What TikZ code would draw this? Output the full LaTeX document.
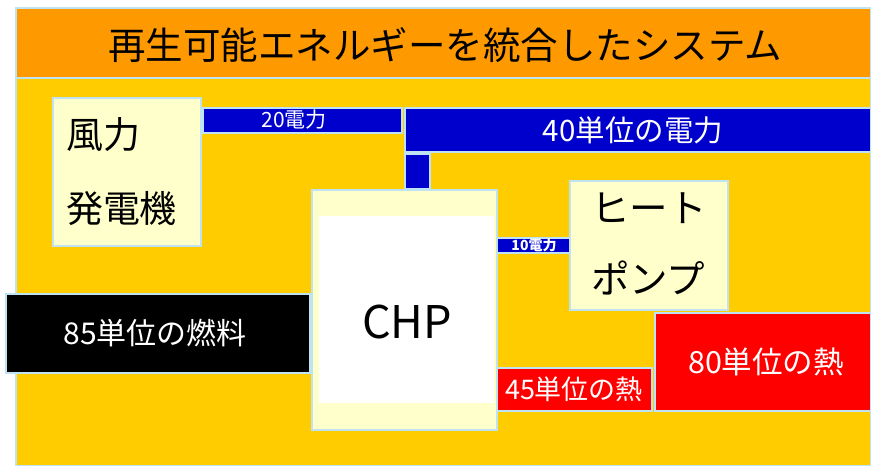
\documentclass[tikz,border=0pt]{standalone}
\usepackage{fontspec}
\setmainfont{Noto Sans CJK JP}
\definecolor{titleor}{HTML}{FF9900}
\definecolor{bgyel}{HTML}{FFCC00}
\definecolor{lightyel}{HTML}{FFFFCC}
\definecolor{elblue}{HTML}{0000CC}
\definecolor{heatred}{HTML}{FF0000}
\definecolor{edgeblue}{HTML}{BFE3F2}
\newcommand{\fs}[1]{\fontsize{#1}{#1}\selectfont}
\tikzset{
  box/.style={draw=edgeblue, line width=1.2pt, inner sep=0pt, outer sep=0pt, anchor=north west},
  lbl/.style={inner sep=0pt, outer sep=0pt},
}
\begin{document}
\begin{tikzpicture}[x=1pt,y=-1pt]
\useasboundingbox (0,0) rectangle (871,466);
\fill[white] (0,0) rectangle (871,466);
% background areas
\node[box, fill=bgyel, minimum width=855pt, minimum height=388pt] (bg) at (16,78) {};
\node[box, fill=titleor, minimum width=855pt, minimum height=70pt] (title) at (16,8) {};
\node[lbl, font=\fs{37.5}] (titletext) at (445,45) {再生可能エネルギーを統合したシステム};
% wind turbine
\node[box, fill=lightyel, minimum width=148pt, minimum height=148pt] (wind) at (53,98) {};
\node[lbl, anchor=west, font=\fs{37}] (wind1) at (66,135) {風力};
\node[lbl, anchor=west, font=\fs{37}] (wind2) at (66,209) {発電機};
% electricity bars
\node[box, fill=elblue, minimum width=199pt, minimum height=25pt] (e20) at (203,108) {};
\node[lbl, text=white, font=\fs{21}] (e20t) at (294,120) {20電力};
\node[box, fill=elblue, minimum width=466pt, minimum height=44pt] (e40) at (405,108) {};
\node[lbl, text=white, font=\fs{29.5}] (e40t) at (633,130) {40単位の電力};
\node[box, fill=elblue, minimum width=25pt, minimum height=35pt] (eblk) at (405,154) {};
% CHP
\node[box, fill=lightyel, minimum width=185pt, minimum height=240pt] (chp) at (312,190) {};
\node[inner sep=0pt, outer sep=0pt, anchor=north west, fill=white, minimum width=175pt, minimum height=187pt] (chpin) at (319,216) {};
\node[lbl, font=\fs{45}] (chpt) at (407,322) {CHP};
% 10 power
\node[box, fill=elblue, minimum width=73pt, minimum height=15pt] (e10) at (497,238) {};
\node[lbl, text=white, font=\bfseries\fs{14}] (e10t) at (534,245.5) {10電力};
% heat pump
\node[box, fill=lightyel, minimum width=158pt, minimum height=129pt] (hp) at (570,181) {};
\node[lbl, anchor=west, font=\fs{38.5}] (hp1) at (591,208) {ヒート};
\node[lbl, anchor=west, font=\fs{38.5}] (hp2) at (591,278) {ポンプ};
% fuel
\node[box, fill=black, minimum width=304pt, minimum height=79pt] (fuel) at (6,294) {};
\node[lbl, text=white, font=\fs{30}] (fuelt) at (155,333) {85単位の燃料};
% heat
\node[box, fill=heatred, minimum width=216pt, minimum height=98pt] (h80) at (655,313) {};
\node[lbl, text=white, font=\fs{30.5}] (h80t) at (766,362) {80単位の熱};
\node[box, fill=heatred, minimum width=155pt, minimum height=43pt] (h45) at (497,368) {};
\node[lbl, text=white, font=\fs{27}] (h45t) at (574,389) {45単位の熱};
\end{tikzpicture}
\end{document}
